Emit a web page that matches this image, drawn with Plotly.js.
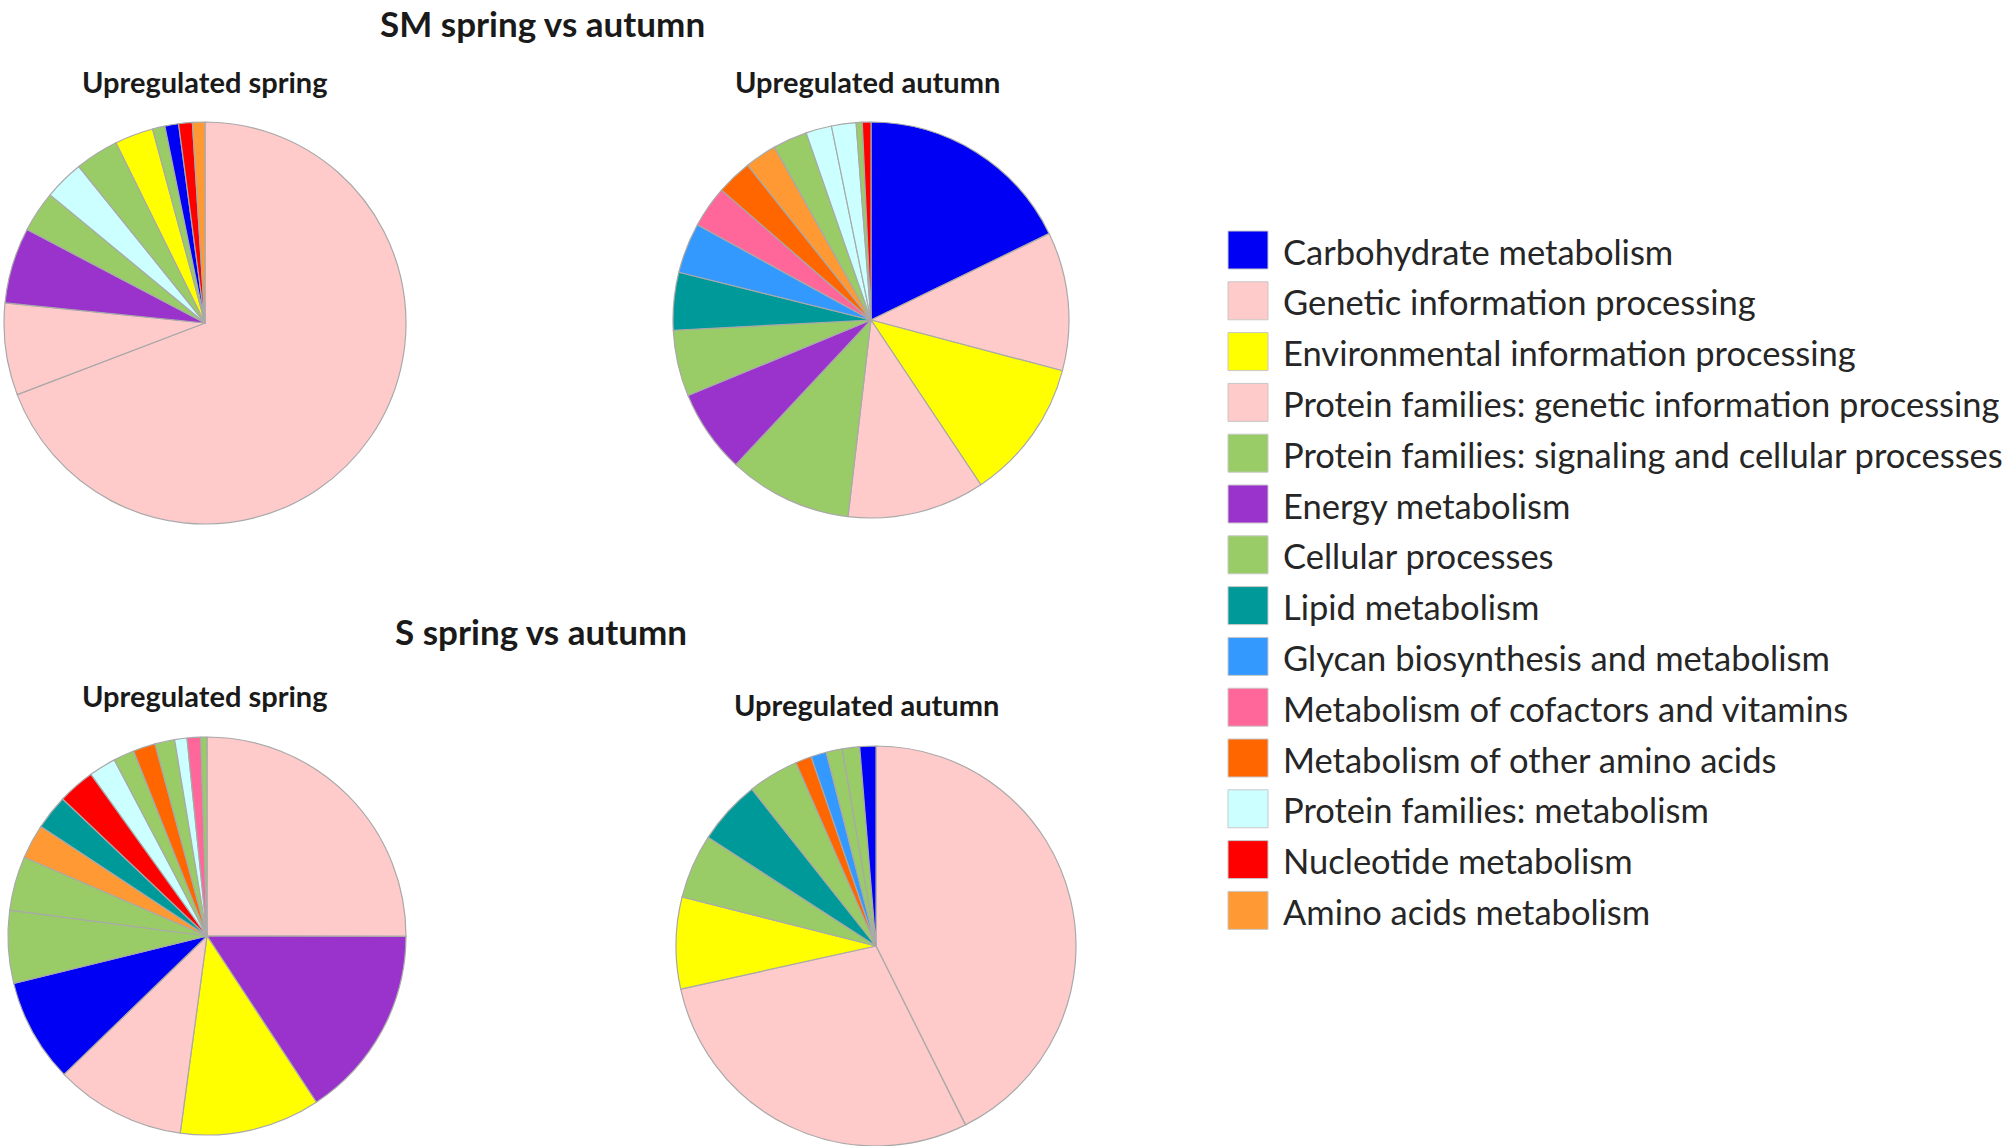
<!DOCTYPE html>
<html><head><meta charset="utf-8">
<script src="https://cdn.plot.ly/plotly-3.0.1.min.js"></script>
<style>html,body{margin:0;padding:0;background:#fff}#chart{width:2010px;height:1146px}</style>
</head><body><div id="chart"></div>
<script>
// ---- Legend categories and colours ----
const legendCategories = [
  "Carbohydrate metabolism",
  "Genetic information processing",
  "Environmental information processing",
  "Protein families: genetic information processing",
  "Protein families: signaling and cellular processes",
  "Energy metabolism",
  "Cellular processes",
  "Lipid metabolism",
  "Glycan biosynthesis and metabolism",
  "Metabolism of cofactors and vitamins",
  "Metabolism of other amino acids",
  "Protein families: metabolism",
  "Nucleotide metabolism",
  "Amino acids metabolism"
];
const legendColors = ["#0000f5","#ffcaca","#ffff00","#ffcaca","#99cc66","#9933cc","#99cc66",
  "#009999","#3399ff","#ff6699","#ff6600","#ccffff","#ff0000","#ff9933"];

// ---- SM spring vs autumn: upregulated spring (% of genes, clockwise from 12 o'clock) ----
const smSpringCategories = [
  "Genetic information processing",
  "Protein families: genetic information processing",
  "Energy metabolism",
  "Protein families: signaling and cellular processes",
  "Protein families: metabolism",
  "Cellular processes",
  "Environmental information processing",
  "Cellular processes",
  "Carbohydrate metabolism",
  "Nucleotide metabolism",
  "Amino acids metabolism"
];
const smSpringValues = [69.2, 7.4, 6.1, 3.3, 3.2, 3.5, 3.1, 1.0, 1.1, 1.1, 1.0];

// ---- SM spring vs autumn: upregulated autumn ----
const smAutumnCategories = [
  "Carbohydrate metabolism",
  "Genetic information processing",
  "Environmental information processing",
  "Protein families: genetic information processing",
  "Protein families: signaling and cellular processes",
  "Energy metabolism",
  "Cellular processes",
  "Lipid metabolism",
  "Glycan biosynthesis and metabolism",
  "Metabolism of cofactors and vitamins",
  "Metabolism of other amino acids",
  "Amino acids metabolism",
  "Cellular processes",
  "Protein families: metabolism",
  "Protein families: metabolism",
  "Protein families: signaling and cellular processes",
  "Nucleotide metabolism"
];
const smAutumnValues = [17.8, 11.3, 11.5, 11.2, 10.1, 6.8, 5.4, 4.7, 4.1, 3.4, 2.9, 2.6, 2.8, 2.1, 2.0, 0.5, 0.7];

// ---- S spring vs autumn: upregulated spring ----
const sSpringCategories = [
  "Genetic information processing",
  "Energy metabolism",
  "Environmental information processing",
  "Protein families: genetic information processing",
  "Carbohydrate metabolism",
  "Protein families: signaling and cellular processes",
  "Cellular processes",
  "Amino acids metabolism",
  "Lipid metabolism",
  "Nucleotide metabolism",
  "Protein families: metabolism",
  "Cellular processes",
  "Metabolism of other amino acids",
  "Protein families: signaling and cellular processes",
  "Protein families: metabolism",
  "Metabolism of cofactors and vitamins",
  "Cellular processes"
];
const sSpringValues = [25.0, 15.7, 11.4, 10.6, 8.4, 5.9, 4.4, 2.8, 2.8, 3.0, 2.2, 1.7, 1.8, 1.6, 1.0, 1.1, 0.5];

// ---- S spring vs autumn: upregulated autumn ----
const sAutumnCategories = [
  "Genetic information processing",
  "Protein families: genetic information processing",
  "Environmental information processing",
  "Cellular processes",
  "Lipid metabolism",
  "Protein families: signaling and cellular processes",
  "Metabolism of other amino acids",
  "Glycan biosynthesis and metabolism",
  "Cellular processes",
  "Protein families: signaling and cellular processes",
  "Carbohydrate metabolism"
];
const sAutumnValues = [42.6, 28.9, 7.4, 5.2, 5.2, 4.1, 1.3, 1.25, 1.3, 1.4, 1.3];

// ---- Titles ----
const groupTitles = ["SM spring vs autumn", "S spring vs autumn"];
const pieTitles = ["Upregulated spring", "Upregulated autumn", "Upregulated spring", "Upregulated autumn"];

// ================= drawing =================
const W = 2010, H = 1146;
const px = x => x / W;
const py = y => 1 - y / H;
const colorOf = {};
legendCategories.forEach((c, i) => { colorOf[c] = legendColors[i]; });

function domainFor(cx, cy, r) {
  return { x: [px(cx - r), px(cx + r)], y: [py(cy + r), py(cy - r)] };
}

function pieTrace(cats, vals, dom) {
  return {
    type: 'pie',
    labels: cats.map((c, i) => (i + 1) + '. ' + c),
    values: vals,
    hovertext: cats,
    hoverinfo: 'text+percent',
    sort: false,
    direction: 'clockwise',
    rotation: 0,
    textinfo: 'none',
    showlegend: false,
    marker: { colors: cats.map(c => colorOf[c]), line: { color: '#a9a9a9', width: 1.2 } },
    domain: dom
  };
}

const data = [
  pieTrace(smSpringCategories, smSpringValues, domainFor(205, 323, 201)),
  pieTrace(smAutumnCategories, smAutumnValues, domainFor(871, 320, 198)),
  pieTrace(sSpringCategories, sSpringValues, domainFor(207, 936, 199)),
  pieTrace(sAutumnCategories, sAutumnValues, domainFor(876, 947, 201))
];

const fam = 'Lato, "Open Sans", sans-serif';
const titleFont = { family: fam, size: 35, color: '#1a1a1a', weight: 'bold' };
const subFont = { family: fam, size: 29, color: '#1a1a1a', weight: 'bold' };
const annotations = [];
// first group title anchored at its top so it is not clipped
annotations.push({
  text: '<b>' + groupTitles[0] + '</b>', x: px(542), y: 1, xref: 'paper', yref: 'paper',
  xanchor: 'center', yanchor: 'top', showarrow: false, font: titleFont
});
annotations.push({
  text: '<b>' + groupTitles[1] + '</b>', x: px(541), y: py(631), xref: 'paper', yref: 'paper',
  xanchor: 'center', yanchor: 'middle', showarrow: false, font: titleFont
});
const subPos = [[205, 82], [867, 82], [205, 695], [866, 704]];
pieTitles.forEach((t, i) => annotations.push({
  text: '<b>' + t + '</b>', x: px(subPos[i][0]), y: py(subPos[i][1]), xref: 'paper', yref: 'paper',
  xanchor: 'center', yanchor: 'middle', showarrow: false, font: subFont
}));

// legend drawn as swatches + labels
const shapes = [];
const legTop = 250, legStep = 50.8;
legendCategories.forEach((c, i) => {
  const yc = legTop + i * legStep;
  shapes.push({
    type: 'rect', xref: 'paper', yref: 'paper',
    x0: px(1228), x1: px(1268), y0: py(yc + 19), y1: py(yc - 19),
    fillcolor: legendColors[i], line: { color: '#c8c8c8', width: 1 }
  });
  annotations.push({
    text: c, x: px(1281), y: py(yc + 1), xref: 'paper', yref: 'paper',
    xanchor: 'left', yanchor: 'middle', showarrow: false,
    font: { family: fam, size: 34.5, color: '#262626' }
  });
});

const layout = {
  width: W, height: H,
  margin: { l: 0, r: 0, t: 0, b: 0 },
  paper_bgcolor: '#ffffff', plot_bgcolor: '#ffffff',
  showlegend: false,
  annotations: annotations,
  shapes: shapes
};

Plotly.newPlot('chart', data, layout, { displayModeBar: false, staticPlot: true });
</script>
</body></html>
